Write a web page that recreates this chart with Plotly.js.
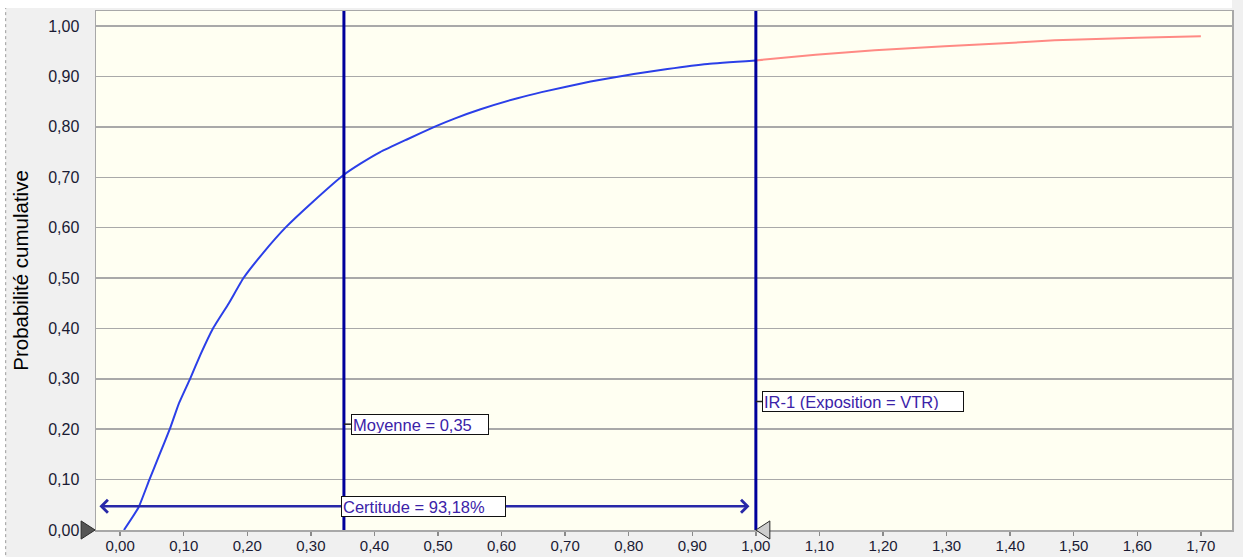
<!DOCTYPE html>
<html>
<head>
<meta charset="utf-8">
<script src="https://cdn.plot.ly/plotly-3.0.1.min.js"></script>
<style>html,body{margin:0;padding:0;background:#f0f0f0;}#chart{width:1243px;height:557px;}</style>
</head>
<body>
<div id="chart"></div>
<script>
// Cumulative curve, part below the threshold (blue)
const blueX = [0.006, 0.029, 0.046, 0.062, 0.078, 0.092, 0.110, 0.127, 0.146, 0.171, 0.194, 0.225, 0.260, 0.302, 0.352, 0.378, 0.409, 0.451, 0.496, 0.527, 0.567, 0.625, 0.663, 0.740, 0.808, 0.861, 0.924, 1.000];
const blueY = [0.000, 0.045, 0.100, 0.150, 0.200, 0.250, 0.300, 0.350, 0.400, 0.450, 0.500, 0.550, 0.600, 0.650, 0.705, 0.727, 0.750, 0.775, 0.801, 0.817, 0.835, 0.857, 0.869, 0.890, 0.905, 0.915, 0.925, 0.932];
// Part above the threshold (red)
const redX = [1.000, 1.094, 1.187, 1.297, 1.390, 1.470, 1.600, 1.700];
const redY = [0.932, 0.943, 0.952, 0.960, 0.966, 0.972, 0.977, 0.980];

const meanValue = 0.352;
const meanLabel = "Moyenne = 0,35";
const meanLabelY = 0.21;
const thresholdValue = 1.00;
const thresholdLabel = "IR-1 (Exposition = VTR)";
const thresholdLabelY = 0.255;
const certaintyLabel = "Certitude = 93,18%";
const certaintyLeft = -0.035;
const certaintyRight = 0.99;
const certaintyLevel = 0.047;
const leftSlider = -0.0394;
const rightSlider = 1.000;
const yTitle = "Probabilité cumulative";

const xRange = [-0.038, 1.749];
const yRange = [0, 1.03];

const navy = "#00009c";
const txtCol = "#3b22a8";
const font = "Liberation Sans, Arial, sans-serif";

const traces = [
  {x: blueX, y: blueY, type: "scatter", mode: "lines",
   line: {color: "#2b3fe8", width: 2, shape: "spline", smoothing: 0.4}, hoverinfo: "x+y"},
  {x: redX, y: redY, type: "scatter", mode: "lines",
   line: {color: "#ff8a84", width: 2, shape: "spline", smoothing: 0.4}, hoverinfo: "x+y"}
];

// slider handle triangles, converted to paper units so they are not clipped
function px(x) { return (x - xRange[0]) / (xRange[1] - xRange[0]); }
function py(y) { return (y - yRange[0]) / (yRange[1] - yRange[0]); }
const tw = 0.022, th = 0.018;
function tri(tipX, dir) {
  const bx = tipX + dir * tw;
  return "M" + px(tipX) + "," + py(0) + " L" + px(bx) + "," + py(th) + " L" + px(bx) + "," + py(-th) + " Z";
}

const layout = {
  width: 1243, height: 557,
  margin: {l: 96, r: 11, t: 11, b: 27},
  paper_bgcolor: "#f0f0f0",
  plot_bgcolor: "#fffff2",
  showlegend: false,
  separators: ", ",
  font: {family: font, size: 16, color: "#1a1a33"},
  xaxis: {
    range: xRange, tick0: 0, dtick: 0.1, tickformat: ".2f",
    showgrid: false, zeroline: false,
    showline: true, mirror: true, linecolor: "#a8a8a8", linewidth: 1.5,
    ticks: "outside", ticklen: 4, tickcolor: "#8a8a8a", tickwidth: 1.5,
    ticklabelstandoff: -3,
    tickfont: {family: font, size: 15, color: "#1a1a33"}
  },
  yaxis: {
    range: yRange, tick0: 0, dtick: 0.1, tickformat: ".2f",
    showgrid: true, gridcolor: "#a9a9a9", gridwidth: 1.5, zeroline: false,
    showline: true, mirror: true, linecolor: "#a8a8a8", linewidth: 1.5,
    ticks: "", ticklabelstandoff: 12,
    tickfont: {family: font, size: 16, color: "#1a1a33"},
    title: {text: yTitle, font: {family: font, size: 20.5, color: "#000"}, standoff: 14},
    automargin: false
  },
  shapes: [
    {type: "rect", xref: "paper", yref: "paper", x0: -0.0845, x1: 1.0, y0: 1.0058, y1: 1.03, fillcolor: "#ffffff", line: {width: 0}, layer: "below"},
    {type: "rect", xref: "paper", yref: "paper", x0: -0.0845, x1: -0.0795, y0: -0.06, y1: 1.03, fillcolor: "#ffffff", line: {width: 0}, layer: "below"},
    {type: "line", xref: "paper", yref: "paper", x0: -0.0795, x1: -0.0795, y0: -0.06, y1: 1.0058, line: {color: "#9a9a9a", width: 1, dash: "dot"}},
    {type: "line", xref: "x", yref: "paper", x0: meanValue, x1: meanValue, y0: 0, y1: 1, line: {color: navy, width: 3}},
    {type: "line", xref: "x", yref: "paper", x0: thresholdValue, x1: thresholdValue, y0: 0, y1: 1, line: {color: navy, width: 3}},
    {type: "line", xref: "x", yref: "y", x0: meanValue, x1: meanValue + 0.011, y0: meanLabelY, y1: meanLabelY, line: {color: "#222", width: 1.5}},
    {type: "line", xref: "x", yref: "y", x0: thresholdValue, x1: thresholdValue + 0.011, y0: thresholdLabelY, y1: thresholdLabelY, line: {color: "#222", width: 1.5}},
    {type: "path", xref: "paper", yref: "paper", path: tri(leftSlider, -1), fillcolor: "#555555", line: {color: "#2a2a2a", width: 1}},
    {type: "path", xref: "paper", yref: "paper", path: tri(rightSlider, 1), fillcolor: "#cdcdcd", line: {color: "#2a2a2a", width: 1}}
  ],
  annotations: [
    {x: certaintyRight, y: certaintyLevel, ax: certaintyLeft, ay: certaintyLevel, axref: "x", ayref: "y", xref: "x", yref: "y",
     text: "", showarrow: true, arrowside: "end+start", arrowhead: 4, startarrowhead: 4, arrowsize: 1, startarrowsize: 1, arrowwidth: 2.5, arrowcolor: "#2828a8"},
    {x: meanValue, y: meanLabelY, xref: "x", yref: "y", xanchor: "left", yanchor: "middle", xshift: 7,
     text: meanLabel, showarrow: false, align: "left", width: 134, height: 17,
     bgcolor: "#ffffff", bordercolor: "#111", borderwidth: 1, borderpad: 1,
     font: {family: font, size: 16.5, color: txtCol}},
    {x: thresholdValue, y: thresholdLabelY, xref: "x", yref: "y", xanchor: "left", yanchor: "middle", xshift: 6,
     text: thresholdLabel, showarrow: false, align: "left", width: 198, height: 17,
     bgcolor: "#ffffff", bordercolor: "#111", borderwidth: 1, borderpad: 1,
     font: {family: font, size: 16.5, color: txtCol}},
    {x: meanValue, y: certaintyLevel, xref: "x", yref: "y", xanchor: "left", yanchor: "middle", xshift: -3,
     text: certaintyLabel, showarrow: false, align: "left", width: 161, height: 17,
     bgcolor: "#ffffff", bordercolor: "#111", borderwidth: 1, borderpad: 1,
     font: {family: font, size: 16.5, color: txtCol}}
  ]
};

Plotly.newPlot("chart", traces, layout, {displayModeBar: false, staticPlot: true});
</script>
</body>
</html>
